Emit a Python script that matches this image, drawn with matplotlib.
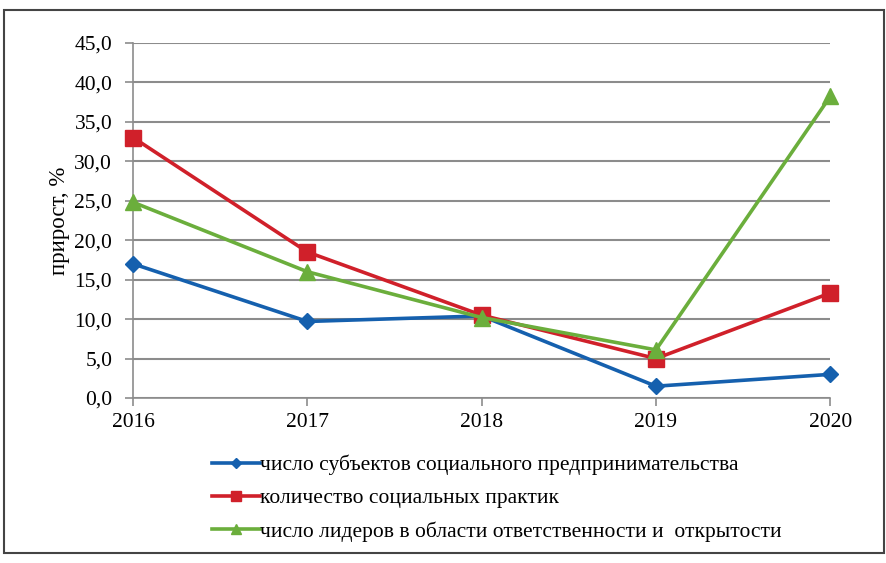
import matplotlib.pyplot as plt
from matplotlib.patches import Rectangle
from matplotlib.ticker import FuncFormatter

plt.rcParams['font.family'] = ['Liberation Serif', 'DejaVu Serif']

years = [2016, 2017, 2018, 2019, 2020]
subjects = [17.0, 9.7, 10.4, 1.5, 3.0]
practices = [33.0, 18.5, 10.5, 5.0, 13.3]
leaders = [24.8, 16.0, 10.2, 6.1, 38.2]

labels = [
    'число субъектов социального предпринимательства',
    'количество социальных практик',
    'число лидеров в области ответственности и  открытости',
]

fig = plt.figure(figsize=(8.87, 5.63), dpi=100)
ax = fig.add_axes([0.150, 0.293, 0.786, 0.631])

# frame around the whole chart
fig.patches.append(Rectangle((4 / 887, 1 - 553 / 563), 880 / 887, 543 / 563,
                             transform=fig.transFigure, fill=False,
                             edgecolor='#444444', linewidth=1.5))

ax.plot(years, subjects, color='#1560AE', lw=2.6, marker='D', ms=8, clip_on=False, zorder=3, label=labels[0])
ax.plot(years, practices, color='#D0202A', lw=2.6, marker='s', ms=11, clip_on=False, zorder=3, label=labels[1])
ax.plot(years, leaders, color='#6BAE3C', lw=2.6, marker='^', ms=11, clip_on=False, zorder=3, label=labels[2])

ax.set_xlim(2016, 2020)
ax.set_ylim(0, 45)
ax.set_xticks(years)
ax.set_yticks(range(0, 50, 5))
ax.yaxis.set_major_formatter(FuncFormatter(lambda v, p: f'{v:.1f}'.replace('.', ',')))
ax.grid(axis='y', color='#8c8c8c', lw=1.5)
ax.set_axisbelow(True)
for s in ['top', 'right']:
    ax.spines[s].set_visible(False)
for s in ['left', 'bottom']:
    ax.spines[s].set_color('#8c8c8c')
    ax.spines[s].set_linewidth(1.2)
ax.tick_params(axis='y', length=6, color='#8c8c8c', width=1.2, labelsize=15.5, pad=9)
ax.tick_params(axis='x', length=6, color='#8c8c8c', width=1.2, labelsize=15.5, pad=5)
ax.set_ylabel('прирост, %', fontsize=16.5, labelpad=3)

fig.legend(loc='upper left', bbox_to_anchor=(203 / 887, 1 - 446 / 563), frameon=False,
           prop={'size': 15.5}, handlelength=2.25, handletextpad=0.02,
           labelspacing=0.6, borderaxespad=0, markerscale=0.7)

fig.savefig('out.png', dpi=100)
